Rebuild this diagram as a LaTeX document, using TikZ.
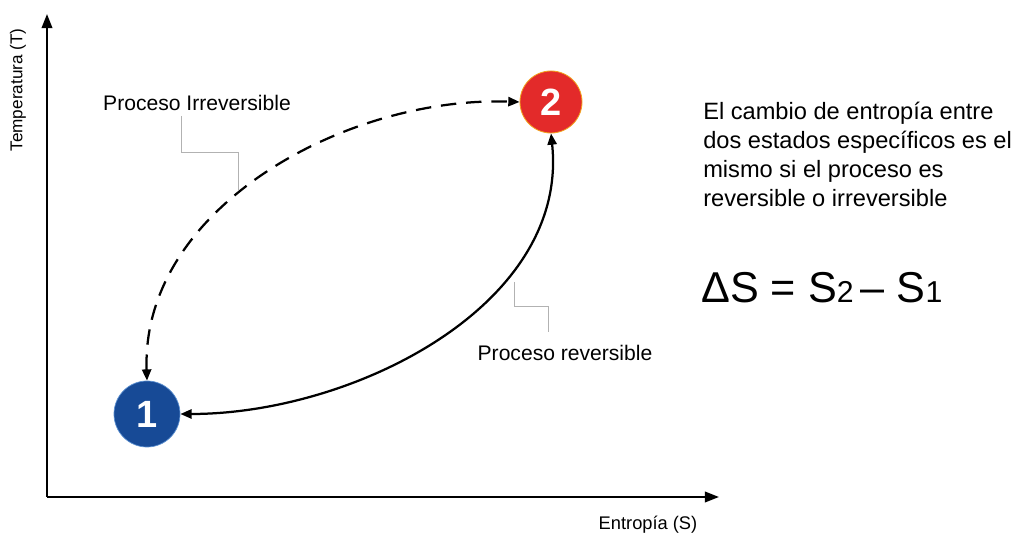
\documentclass[tikz,border=0pt]{standalone}
\usepackage{fontspec}
\setmainfont{Liberation Sans}
\usetikzlibrary{arrows.meta}

\definecolor{estadoazul}{HTML}{174A96}
\definecolor{bordeazul}{HTML}{5B8FD0}
\definecolor{estadorojo}{HTML}{E32A2A}
\definecolor{bordenaranja}{HTML}{F2A320}

\begin{document}
\begin{tikzpicture}[x=0.025cm,y=-0.025cm]
  \tikzstyle{estado}=[circle,inner sep=0pt,text=white,font=\fontsize{27}{30}\selectfont\bfseries]
  \tikzstyle{eje}=[line width=1.4pt,-{Triangle[length=10pt,width=7.5pt]}]
  \tikzstyle{proceso}=[line width=1.6pt,{Triangle[length=8pt,width=6.5pt]}-{Triangle[length=8pt,width=6.5pt]}]
  \tikzstyle{guia}=[draw=black!30,line width=0.6pt]
  \useasboundingbox (0,0) rectangle (1014,536);
  % ejes
  \coordinate (O) at (47,497);
  \coordinate (Ty) at (47,14);
  \coordinate (Sx) at (719,497);
  \draw [eje] (O) -- (Ty);
  \draw [eje] (O) -- (Sx);
  \node (ejeT) [rotate=90,font=\fontsize{12.2}{14}\selectfont] at (18,90) {Temperatura (T)};
  \node (ejeS) [font=\fontsize{13}{15}\selectfont] at (648,525) {Entropía (S)};
  % estados
  \node (e1) [estado,fill=estadoazul,draw=bordeazul,line width=0.5pt,minimum size=1.65cm] at (147,414) {1};
  \node (e2) [estado,fill=estadorojo,draw=bordenaranja,line width=0.6pt,minimum size=1.55cm] at (551,102) {2};
  % procesos
  \draw [proceso,dash pattern=on 11pt off 7pt] (e1.north) to[out=92,in=178,looseness=0.95] (e2.west);
  \draw [proceso] (e1.east) to[out=0,in=-84,looseness=0.95] (e2.south);
  % etiquetas
  \node (irr) [font=\fontsize{15}{17}\selectfont] at (197,103) {Proceso Irreversible};
  \node (rev) [font=\fontsize{15}{17}\selectfont] at (565,353) {Proceso reversible};
  \draw [guia] (181,116) -- (181,152) -- (238,152) -- (238,190);
  \draw [guia] (514,282) -- (514,306) -- (548,306) -- (548,332);
  % texto
  \node (nota) [anchor=north west,align=left,inner sep=0pt,font=\fontsize{16.8}{20.6}\selectfont] at (703,102)
    {El cambio de entropía entre\\dos estados específicos es el\\mismo si el proceso es\\reversible o irreversible};
  \node (formula) [anchor=base west,inner sep=0pt,font=\fontsize{30.7}{34}\selectfont] at (701,303)
    {ΔS = S{\fontsize{21.5}{24}\selectfont 2}\,– S{\fontsize{21.5}{24}\selectfont 1}};
\end{tikzpicture}
\end{document}
